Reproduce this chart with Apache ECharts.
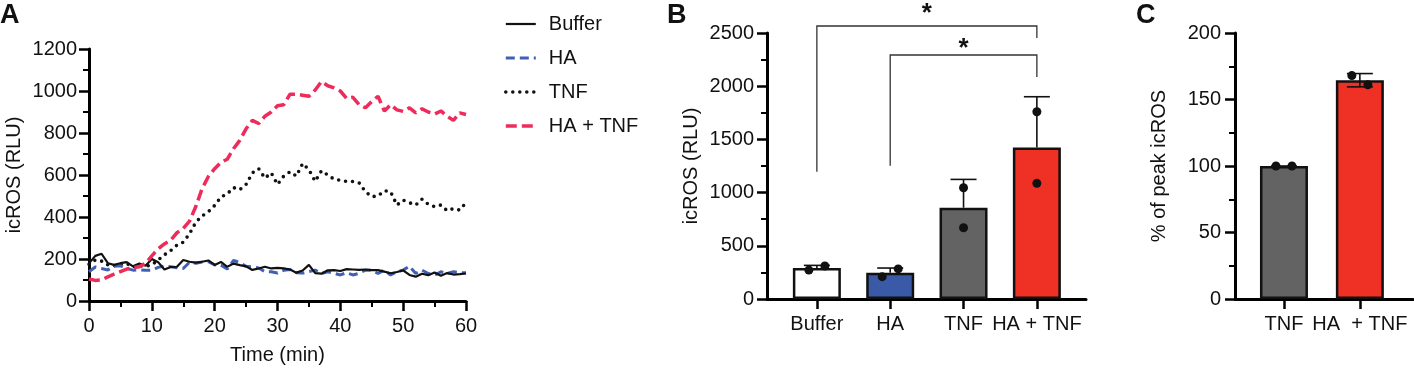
<!DOCTYPE html>
<html>
<head>
<meta charset="utf-8">
<script src="https://cdn.jsdelivr.net/npm/echarts/dist/echarts.min.js"></script>
<style>
  html, body { margin: 0; padding: 0; background: #fff; }
  #chart { width: 1414px; height: 371px; }
</style>
</head>
<body>
<div id="chart"></div>
<script>
// panel A: kinetics, one reading per minute
const timeMin = [0, 1, 2, 3, 4, 5, 6, 7, 8, 9, 10, 11, 12, 13, 14, 15, 16, 17, 18, 19, 20,
  21, 22, 23, 24, 25, 26, 27, 28, 29, 30, 31, 32, 33, 34, 35, 36, 37, 38, 39, 40,
  41, 42, 43, 44, 45, 46, 47, 48, 49, 50, 51, 52, 53, 54, 55, 56, 57, 58, 59, 60]

const bufferRLU = [179, 215, 225, 180, 172, 180, 185, 165, 178, 168, 200, 185, 150, 162, 163, 195, 187, 183, 187, 193, 172,
  186, 163, 178, 171, 165, 148, 155, 163, 155, 158, 155, 150, 135, 145, 172, 133, 130, 146, 147, 143,
  152, 150, 148, 150, 147, 147, 140, 132, 138, 146, 124, 116, 130, 123, 136, 120, 133, 126, 128, 131]

const haRLU = [139, 162, 155, 148, 165, 168, 155, 147, 148, 146, 147, 160, 166, 163, 158, 155, 185, 180, 186, 187, 172,
  170, 152, 193, 183, 165, 163, 157, 140, 139, 133, 146, 150, 135, 133, 140, 147, 131, 139, 132, 124,
  135, 124, 132, 147, 146, 131, 147, 124, 139, 147, 166, 131, 147, 131, 123, 139, 131, 139, 135, 134]

const tnfRLU = [175, 195, 190, 172, 168, 176, 178, 162, 168, 165, 172, 195, 220, 240, 266, 280, 320, 375, 405, 425, 455,
  495, 510, 540, 530, 555, 610, 630, 585, 610, 555, 595, 615, 595, 655, 625, 570, 620, 600, 580, 575,
  569, 569, 562, 520, 497, 500, 525, 520, 457, 480, 468, 457, 485, 460, 449, 457, 430, 440, 433, 468]

const haTnfRLU = [105, 98, 100, 115, 128, 140, 152, 158, 163, 180, 215, 248, 272, 290, 325, 346, 380, 450, 535, 593, 630,
  660, 675, 725, 765, 820, 860, 845, 880, 900, 930, 935, 985, 985, 980, 975, 1005, 1045, 1025, 1015, 1000,
  965, 970, 935, 920, 950, 975, 905, 935, 910, 903, 920, 896, 915, 900, 890, 905, 880, 860, 896, 888]

// panel B: peak icROS
const groupsB = ['Buffer', 'HA', 'TNF', 'HA + TNF']
const meanB = [291, 246, 858, 1423]
const sdB = [25, 45, 266, 478]
const pointsB = [[272, 310], [210, 283], [670, 1046], [1087, 1760]]

// panel C: % of TNF peak
const groupsC = ['TNF', 'HA  + TNF']
const meanC = [100, 164.5]
const sdC = [0, 5]
const pointsC = [[100, 100], [168, 161]]

const FONT = 'Liberation Sans'
const INK = '#111'
const barColorsB = ['#ffffff', '#3a59a6', '#636363', '#ee3124']
const barColorsC = ['#636363', '#ee3124']

// comparison brackets in B: [from, to, top, left leg end, right leg end, star y]
const bracketsB = [
  [0, 3, 2566, 1196, 2453, 2683],
  [1, 3, 2293, 1253, 2086, 2350],
]

const chart = echarts.init(document.getElementById('chart'))

const plain = (v) => String(v)
const labelStyle = { color: INK, fontSize: 20, fontFamily: FONT }
const axisLine = { show: true, onZero: false, lineStyle: { color: '#000', width: 3 } }
const majorTick = { show: true, length: 10, lineStyle: { color: '#000', width: 2.5 } }
const minorTick = { show: true, splitNumber: 2, length: 6, lineStyle: { color: '#000', width: 2 } }
const nameStyle = { color: INK, fontSize: 20, fontFamily: FONT }

const lineStyles = {
  'Buffer': { color: INK, width: 2.2, type: 'solid' },
  'HA': { color: '#4160b4', width: 3, type: [9, 5] },
  'TNF': { color: INK, width: 3.6, type: [0, 7], cap: 'round' },
  'HA + TNF': { color: '#ee2c5c', width: 3.5, type: [11, 5] },
}

function errorBars(upOnly) {
  return function (params, api) {
    const x = api.value(0)
    const mean = api.value(1)
    const sd = api.value(2)
    const hi = api.coord([x, mean + sd])
    const lo = api.coord([x, upOnly ? mean : mean - sd])
    const half = 13
    const style = { stroke: INK, lineWidth: 1.6 }
    const children = [
      { type: 'line', shape: { x1: hi[0], y1: lo[1], x2: hi[0], y2: hi[1] }, style },
      { type: 'line', shape: { x1: hi[0] - half, y1: hi[1], x2: hi[0] + half, y2: hi[1] }, style },
    ]
    if (!upOnly && sd > 0) {
      children.push({ type: 'line', shape: { x1: lo[0] - half, y1: lo[1], x2: lo[0] + half, y2: lo[1] }, style })
    }
    return { type: 'group', children }
  }
}

function dotPairs(params, api) {
  const x = api.value(0)
  const a = api.coord([x, api.value(1)])
  const b = api.coord([x, api.value(2)])
  // spread the two replicates sideways when they would overlap
  const shift = Math.abs(a[1] - b[1]) < 12 ? 8 : 0
  const style = { fill: INK }
  return {
    type: 'group',
    children: [
      { type: 'circle', shape: { cx: a[0] - shift, cy: a[1], r: 4.5 }, style },
      { type: 'circle', shape: { cx: b[0] + shift, cy: b[1], r: 4.5 }, style },
    ],
  }
}

function brackets(params, api) {
  const from = api.value(0)
  const to = api.value(1)
  const pL = api.coord([from, api.value(3)])
  const pTL = api.coord([from, api.value(2)])
  const pTR = api.coord([to, api.value(2)])
  const pR = api.coord([to, api.value(4)])
  const star = api.coord([(from + to) / 2, api.value(5)])
  return {
    type: 'group',
    children: [
      {
        type: 'polyline',
        shape: { points: [pL, pTL, pTR, pR] },
        style: { stroke: '#333', lineWidth: 1.3, fill: null },
      },
      {
        type: 'text',
        x: star[0],
        y: star[1],
        style: {
          text: '*', fill: INK, fontSize: 26, fontFamily: FONT, fontWeight: 'bold',
          align: 'center', verticalAlign: 'middle',
        },
      },
    ],
  }
}

function lineSeries(name, values, z) {
  return {
    name, type: 'line', xAxisIndex: 0, yAxisIndex: 0, showSymbol: false, symbol: 'none', z,
    data: timeMin.map((t, i) => [t, values[i]]),
    lineStyle: lineStyles[name],
    itemStyle: { color: lineStyles[name].color },
  }
}

const option = {
  animation: false,
  backgroundColor: '#fff',
  title: [
    { text: 'A', left: 0, top: 2, padding: 0, textStyle: { fontSize: 27, fontWeight: 'bold', color: INK, fontFamily: FONT } },
    { text: 'B', left: 667, top: 2, padding: 0, textStyle: { fontSize: 27, fontWeight: 'bold', color: INK, fontFamily: FONT } },
    { text: 'C', left: 1136, top: 2, padding: 0, textStyle: { fontSize: 27, fontWeight: 'bold', color: INK, fontFamily: FONT } },
  ],
  legend: {
    data: ['Buffer', 'HA', 'TNF', 'HA + TNF'].map((name) => ({ name, lineStyle: { ...lineStyles[name] } })),
    orient: 'vertical',
    left: 504,
    top: 14,
    itemWidth: 30,
    itemHeight: 14,
    itemGap: 14,
    padding: 0,
    itemStyle: { opacity: 0 },
    textStyle: { color: INK, fontSize: 20, fontFamily: FONT, padding: [0, 0, 0, 8] },
  },
  grid: [
    { left: 89, top: 49, width: 377, height: 252, containLabel: false, outerBoundsMode: 'none' },
    { left: 767, top: 33, width: 319, height: 266, containLabel: false, outerBoundsMode: 'none' },
    { left: 1235, top: 33, width: 178, height: 266, containLabel: false, outerBoundsMode: 'none' },
  ],
  xAxis: [
    {
      gridIndex: 0, type: 'value', min: 0, max: 60, interval: 10,
      name: 'Time (min)', nameLocation: 'middle', nameGap: 44, nameTextStyle: nameStyle,
      axisLine, axisTick: majorTick, minorTick,
      axisLabel: { ...labelStyle, margin: 15, formatter: plain },
      splitLine: { show: false },
    },
    {
      gridIndex: 1, type: 'value', min: -0.68, max: 3.67,
      axisLine, axisTick: { ...majorTick, customValues: [0, 1, 2, 3] },
      axisLabel: { ...labelStyle, margin: 15, customValues: [0, 1, 2, 3], formatter: (v) => groupsB[Math.round(v)] },
      splitLine: { show: false },
    },
    {
      gridIndex: 2, type: 'value', min: -0.645, max: 1.70,
      axisLine, axisTick: { ...majorTick, customValues: [0, 1] },
      axisLabel: { ...labelStyle, margin: 15, customValues: [0, 1], formatter: (v) => groupsC[Math.round(v)] },
      splitLine: { show: false },
    },
  ],
  yAxis: [
    {
      gridIndex: 0, type: 'value', min: 0, max: 1200, interval: 200,
      name: 'icROS (RLU)', nameLocation: 'middle', nameGap: 65, nameTextStyle: nameStyle,
      axisLine, axisTick: majorTick, minorTick,
      axisLabel: { ...labelStyle, margin: 12, formatter: plain },
      splitLine: { show: false },
    },
    {
      gridIndex: 1, type: 'value', min: 0, max: 2500, interval: 500,
      name: 'icROS (RLU)', nameLocation: 'middle', nameGap: 66, nameTextStyle: nameStyle,
      axisLine, axisTick: majorTick, minorTick,
      axisLabel: { ...labelStyle, margin: 13, formatter: plain },
      splitLine: { show: false },
    },
    {
      gridIndex: 2, type: 'value', min: 0, max: 200, interval: 50,
      name: '% of peak icROS', nameLocation: 'middle', nameGap: 66, nameTextStyle: nameStyle,
      axisLine, axisTick: majorTick, minorTick,
      axisLabel: { ...labelStyle, margin: 14, formatter: plain },
      splitLine: { show: false },
    },
  ],
  series: [
    lineSeries('TNF', tnfRLU, 1),
    lineSeries('HA', haRLU, 2),
    lineSeries('Buffer', bufferRLU, 3),
    lineSeries('HA + TNF', haTnfRLU, 4),
    {
      type: 'bar', xAxisIndex: 1, yAxisIndex: 1, barWidth: 48,
      data: meanB.map((m, i) => ({ value: [i, m], itemStyle: { color: barColorsB[i] } })),
      itemStyle: { borderColor: INK, borderWidth: 2.5 },
    },
    {
      type: 'custom', xAxisIndex: 1, yAxisIndex: 1, z: 5,
      renderItem: errorBars(true),
      data: meanB.map((m, i) => [i, m, sdB[i]]),
    },
    {
      type: 'custom', xAxisIndex: 1, yAxisIndex: 1, z: 6,
      renderItem: dotPairs,
      data: pointsB.map((p, i) => [i, p[0], p[1]]),
    },
    {
      type: 'custom', xAxisIndex: 1, yAxisIndex: 1, z: 6, clip: false,
      renderItem: brackets,
      data: bracketsB,
    },
    {
      type: 'bar', xAxisIndex: 2, yAxisIndex: 2, barWidth: 48,
      data: meanC.map((m, i) => ({ value: [i, m], itemStyle: { color: barColorsC[i] } })),
      itemStyle: { borderColor: INK, borderWidth: 2.5 },
    },
    {
      type: 'custom', xAxisIndex: 2, yAxisIndex: 2, z: 5,
      renderItem: errorBars(false),
      data: meanC.map((m, i) => [i, m, sdC[i]]),
    },
    {
      type: 'custom', xAxisIndex: 2, yAxisIndex: 2, z: 6,
      renderItem: dotPairs,
      data: pointsC.map((p, i) => [i, p[0], p[1]]),
    },
  ],
}

chart.setOption(option)
</script>
</body>
</html>
